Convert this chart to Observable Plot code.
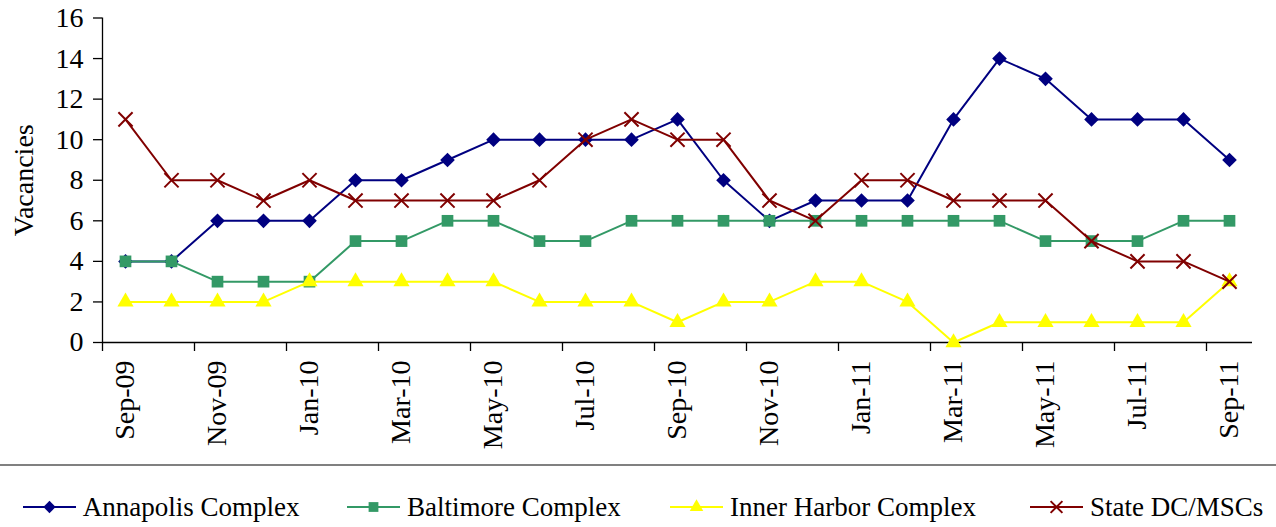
<!DOCTYPE html>
<html>
<head>
<meta charset="utf-8">
<script src="https://cdn.jsdelivr.net/npm/d3@7"></script>
<script src="https://cdn.jsdelivr.net/npm/@observablehq/plot@0.6"></script>
<style>
  html, body { margin: 0; padding: 0; background: #fff; }
  #wrap { position: relative; width: 1276px; height: 527px; overflow: hidden; font-family: "Liberation Serif", "Times New Roman", serif; }
  #legend { position: absolute; left: 0; top: 464px; width: 1276px; height: 63px; border-top: 2px solid #808080; }
  .item { position: absolute; top: 26px; height: 30px; display: flex; align-items: center; font-size: 27px; color: #000; white-space: nowrap; }
  .item svg { display: block; margin-right: 7px; }
</style>
</head>
<body>
<div id="wrap"><div id="chart"></div><div id="legend"></div></div>
<script>
const months = ["Sep-09","Oct-09","Nov-09","Dec-09","Jan-10","Feb-10","Mar-10","Apr-10","May-10","Jun-10","Jul-10","Aug-10","Sep-10","Oct-10","Nov-10","Dec-10","Jan-11","Feb-11","Mar-11","Apr-11","May-11","Jun-11","Jul-11","Aug-11","Sep-11"];
const annapolis   = [4,4,6,6,6,8,8,9,10,10,10,10,11,8,6,7,7,7,11,14,13,11,11,11,9];
const baltimore   = [4,4,3,3,3,5,5,6,6,5,5,6,6,6,6,6,6,6,6,6,5,5,5,6,6];
const innerHarbor = [2,2,2,2,3,3,3,3,3,2,2,2,1,2,2,3,3,2,0,1,1,1,1,1,3];
const stateDC     = [11,8,8,7,8,7,7,7,7,8,10,11,10,10,7,6,8,8,7,7,7,5,4,4,3];
const yTicks = [0,2,4,6,8,10,12,14,16];

const seriesDefs = [
  {name: "Annapolis Complex",    values: annapolis,   color: "#000080", symbol: "diamond2", r: 6.6, fill: true},
  {name: "Baltimore Complex",    values: baltimore,   color: "#339966", symbol: "square",   r: 6.6, fill: true},
  {name: "Inner Harbor Complex", values: innerHarbor, color: "#FFFF00", symbol: "triangle", r: 6,   fill: true},
  {name: "State DC/MSCs",        values: stateDC,     color: "#800000", symbol: "times",    r: 6.5, fill: false}
];

const labelIdx = months.map((m, i) => i).filter(i => i % 2 === 0);
const boundaryIdx = months.map((m, i) => i - 0.5).filter((v, i) => i % 2 === 0 && i > 0).concat([-0.5]);

const marks = [];
for (const s of seriesDefs) {
  const data = s.values.map((v, i) => ({i, v}));
  marks.push(Plot.line(data, {x: "i", y: "v", stroke: s.color, strokeWidth: 2}));
  marks.push(Plot.dot(data, s.fill
    ? {x: "i", y: "v", symbol: () => s.symbol, r: s.r, fill: s.color, stroke: "none"}
    : {x: "i", y: "v", symbol: () => s.symbol, r: s.r, stroke: s.color, strokeWidth: 2, fill: "none"}));
}

const chart = Plot.plot({
  width: 1276,
  height: 460,
  marginLeft: 102,
  marginRight: 24,
  marginTop: 17.5,
  marginBottom: 118,
  style: {fontFamily: "'Liberation Serif', 'Times New Roman', serif", fontSize: "28px", color: "#000", background: "#fff"},
  x: {type: "linear", domain: [-0.5, 24.5], axis: null},
  y: {type: "linear", domain: [0, 16], axis: null},
  symbol: {type: "identity"},
  marks: [
    Plot.axisY({ticks: yTicks, tickSize: 9, tickPadding: 10, label: null, stroke: "#000", strokeWidth: 1.3}),
    Plot.axisX({ticks: labelIdx, tickFormat: i => months[i], tickRotate: -90, tickSize: 0, tickPadding: 18, label: null}),
    Plot.axisX({ticks: boundaryIdx, tickFormat: () => "", tickSize: 9, label: null, stroke: "#000", strokeWidth: 1.3}),
    Plot.ruleY([0], {stroke: "#000", strokeWidth: 1.3}),
    Plot.ruleX([-0.5], {stroke: "#000", strokeWidth: 1.3}),
    Plot.text(["Vacancies"], {frameAnchor: "left", textAnchor: "middle", dx: -70, rotate: -90, lineAnchor: "bottom", fontSize: 28, fill: "#000"}),
    ...marks
  ]
});
document.getElementById("chart").appendChild(chart);

// legend
const legendX = [22.7, 347, 670, 1030];
const legend = d3.select("#legend");
const symMap = {diamond2: d3.symbolDiamond2, square: d3.symbolSquare, triangle: d3.symbolTriangle, times: d3.symbolTimes};
seriesDefs.forEach((s, k) => {
  const item = legend.append("div").attr("class", "item").style("left", legendX[k] + "px");
  const svg = item.append("svg").attr("width", 53).attr("height", 30);
  svg.append("line").attr("x1", 0).attr("x2", 53).attr("y1", 15).attr("y2", 15)
     .attr("stroke", s.color).attr("stroke-width", 2);
  const path = svg.append("path")
     .attr("transform", "translate(26.5,15)")
     .attr("d", d3.symbol(symMap[s.symbol], Math.PI * s.r * s.r * 0.7)());
  if (s.fill) path.attr("fill", s.color);
  else path.attr("fill", "none").attr("stroke", s.color).attr("stroke-width", 2);
  item.append("span").text(s.name);
});
</script>
</body>
</html>
